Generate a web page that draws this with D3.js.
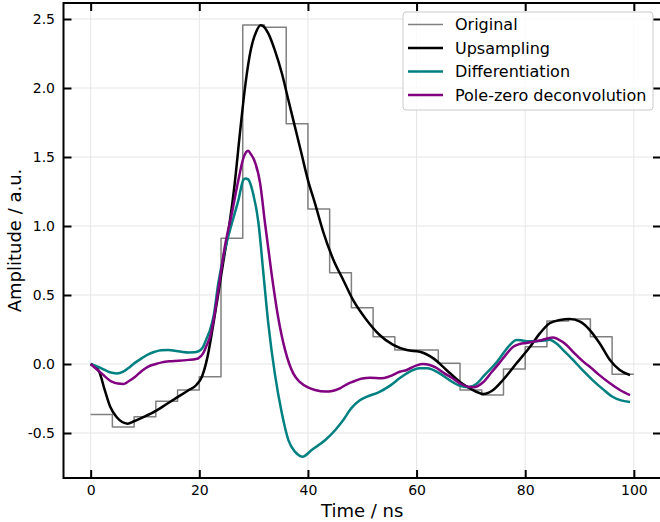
<!DOCTYPE html>
<html>
<head>
<meta charset="utf-8">
<script src="https://cdn.jsdelivr.net/npm/d3@7"></script>
<style>
  body { margin: 0; background: #fff; }
  svg { display: block; font-family: "DejaVu Sans", sans-serif; }
</style>
</head>
<body>
<div id="chart"></div>
<script>
// original samples (4 ns bins, last value repeated to close the step at 100 ns)
const origTime = [0, 4, 8, 12, 16, 20, 24, 28, 32, 36, 40, 44, 48, 52, 56, 60, 64, 68, 72, 76, 80, 84, 88, 92, 96, 100];
const origValues = [-0.365, -0.457, -0.382, -0.27, -0.188, -0.092, 0.911, 2.457, 2.44, 1.741, 1.123, 0.662, 0.408,
	0.198, 0.101, 0.101, 0.005, -0.188, -0.225, -0.036, 0.125, 0.312, 0.326, 0.198, -0.075, -0.075];

const upTime = [0, 1.5, 2.6, 3.6, 4.8, 5.8, 6.8, 8, 10, 12, 14, 16, 18, 19.5, 20.5, 21.5, 22.5, 23.5, 24.5, 25.5, 26.5,
	27.5, 28.5, 29.5, 30.5, 31.3, 32, 32.7, 33.9, 35.2, 36.4, 37.6, 38.8, 40, 41.3, 42.8, 44.7, 46.5, 48.3, 50.8, 53.2,
	55.7, 58.2, 60.6, 63.1, 65.5, 68, 69.8, 72.3, 74.1, 75.9, 78.4, 80.9, 82.7, 84.5, 86.4, 88.2, 90.1, 91.9, 93.7, 95.6,
	97.4, 99.3];
const upValues = [0, -0.05, -0.19, -0.31, -0.386, -0.42, -0.432, -0.415, -0.38, -0.34, -0.29, -0.24, -0.19, -0.15, -0.09,
	0.05, 0.27, 0.51, 0.76, 1.0, 1.3, 1.68, 2.03, 2.28, 2.41, 2.455, 2.44, 2.396, 2.275, 2.107, 1.913, 1.72, 1.527, 1.333,
	1.164, 0.96, 0.754, 0.609, 0.464, 0.319, 0.21, 0.138, 0.101, 0.089, 0.041, -0.043, -0.13, -0.176, -0.217, -0.188,
	-0.116, 0.005, 0.125, 0.222, 0.295, 0.319, 0.326, 0.307, 0.246, 0.15, 0.029, -0.043, -0.08];

const diffTime = [0, 2, 3.5, 4.8, 6, 6.9, 8.2, 9.4, 10.6, 11.8, 13, 14.3, 15.5, 16.7, 18, 19.2, 20, 20.7, 21.3, 22, 22.6,
	23.5, 24.7, 26, 27.2, 28.1, 28.5, 29, 29.9, 30.9, 31.8, 32.7, 33.9, 35.2, 36.4, 37.6, 38.5, 39, 40.7, 43.2, 45, 46.5,
	48, 49.5, 51, 53, 55, 57, 59, 60.5, 62, 64, 66, 68, 69.5, 71, 72.3, 73.5, 74.7, 76, 77.2, 78.4, 79.3, 80.2, 82.1,
	83.5, 84.5, 85.7, 87, 88.8, 90.7, 92.5, 94.3, 96, 97.5, 99.3];
const diffValues = [0, -0.031, -0.06, -0.068, -0.055, -0.031, 0.01, 0.041, 0.07, 0.089, 0.1, 0.101, 0.096, 0.089, 0.084,
	0.085, 0.095, 0.125, 0.18, 0.25, 0.34, 0.585, 0.826, 1.02, 1.188, 1.333, 1.345, 1.338, 1.237, 1.02, 0.657, 0.295,
	-0.068, -0.357, -0.551, -0.635, -0.665, -0.672, -0.623, -0.551, -0.48, -0.406, -0.32, -0.265, -0.235, -0.205, -0.16,
	-0.1, -0.05, -0.03, -0.03, -0.062, -0.115, -0.158, -0.168, -0.145, -0.09, -0.04, 0.01, 0.08, 0.138, 0.174, 0.172,
	0.165, 0.165, 0.17, 0.175, 0.15, 0.101, 0.03, -0.05, -0.12, -0.182, -0.235, -0.262, -0.275];

const pzTime = [0, 2, 3.9, 5, 6, 7, 8.2, 9.4, 10.6, 12, 13.1, 14.5, 16.1, 18, 19.2, 19.8, 20.7, 21.3, 22, 22.5, 23.5,
	24.7, 26, 27.2, 28.1, 29, 29.5, 30.1, 31.2, 32.1, 33.3, 34.5, 35.8, 37.3, 38.5, 40, 41.3, 43.2, 44.5, 45.9, 47.5,
	48.5, 50, 51.5, 53.5, 55, 56.9, 58.2, 60, 61.2, 62.3, 63.5, 65.2, 66.5, 68, 69.5, 70.5, 72.3, 73.8, 75.3, 76.5, 77.8,
	79, 80.2, 81.5, 82.7, 84, 85.1, 86, 87.6, 89, 90.7, 91.9, 93.5, 95.6, 97.5, 99.3];
const pzValues = [0, -0.068, -0.128, -0.142, -0.145, -0.125, -0.092, -0.05, -0.019, 0.0, 0.012, 0.02, 0.024, 0.03, 0.035,
	0.041, 0.077, 0.13, 0.2, 0.29, 0.536, 0.85, 1.092, 1.333, 1.49, 1.545, 1.52, 1.478, 1.309, 1.02, 0.657, 0.343, 0.101,
	-0.068, -0.13, -0.17, -0.188, -0.2, -0.195, -0.176, -0.14, -0.125, -0.105, -0.1, -0.104, -0.09, -0.056, -0.043, -0.01,
	0.0, -0.005, -0.025, -0.07, -0.1, -0.14, -0.165, -0.168, -0.13, -0.06, 0.01, 0.07, 0.125, 0.145, 0.152, 0.162, 0.17,
	0.185, 0.193, 0.18, 0.138, 0.08, 0.017, -0.02, -0.075, -0.14, -0.19, -0.225];

const xTicks = [0, 20, 40, 60, 80, 100];
const yTicks = [-0.5, 0.0, 0.5, 1.0, 1.5, 2.0, 2.5];

const series = [
	{ name: "Original", t: origTime, v: origValues, color: "#808080", width: 1.5, curve: d3.curveStepAfter },
	{ name: "Upsampling", t: upTime, v: upValues, color: "#000000", width: 2.5, curve: d3.curveMonotoneX },
	{ name: "Differentiation", t: diffTime, v: diffValues, color: "#008080", width: 2.5, curve: d3.curveMonotoneX },
	{ name: "Pole-zero deconvolution", t: pzTime, v: pzValues, color: "#800080", width: 2.5, curve: d3.curveMonotoneX },
];

const width = 660, height = 522;
const mLeft = 63.5, mRight = 661, mTop = 3, mBottom = 478;

const svg = d3.select("#chart").append("svg")
	.attr("width", width)
	.attr("height", height);

const x = d3.scaleLinear().domain([-5, 105]).range([mLeft, mRight]);
const y = d3.scaleLinear().domain([-0.826, 2.616]).range([mBottom, mTop]);

// grid
svg.append("g").selectAll("line").data(xTicks).join("line")
	.attr("x1", d => x(d)).attr("x2", d => x(d))
	.attr("y1", mTop).attr("y2", mBottom)
	.attr("stroke", "#e6e6e6").attr("stroke-width", 1);
svg.append("g").selectAll("line").data(yTicks).join("line")
	.attr("x1", mLeft).attr("x2", mRight)
	.attr("y1", d => y(d)).attr("y2", d => y(d))
	.attr("stroke", "#e6e6e6").attr("stroke-width", 1);

// lines
const plot = svg.append("g");
series.forEach(s => {
	const line = d3.line()
		.x(i => x(s.t[i]))
		.y(i => y(s.v[i]))
		.curve(s.curve);
	plot.append("path")
		.attr("d", line(d3.range(s.t.length)))
		.attr("fill", "none")
		.attr("stroke", s.color)
		.attr("stroke-width", s.width)
		.attr("stroke-linejoin", "round");
});

// axes, ticks pointing inwards on all sides
const styleAxis = g => {
	g.select(".domain").remove();
	g.selectAll(".tick line").attr("stroke", "#000").attr("stroke-width", 2);
	g.selectAll(".tick text").attr("fill", "#000").style("font-size", "14px")
		.style("font-family", "DejaVu Sans");
};
svg.append("g").attr("transform", `translate(0,${mBottom})`)
	.call(d3.axisBottom(x).tickValues(xTicks).tickSize(-8).tickPadding(7).tickFormat(d => d))
	.call(styleAxis);
svg.append("g").attr("transform", `translate(0,${mTop})`)
	.call(d3.axisTop(x).tickValues(xTicks).tickSize(-8).tickFormat(""))
	.call(styleAxis);
svg.append("g").attr("transform", `translate(${mLeft},0)`)
	.call(d3.axisLeft(y).tickValues(yTicks).tickSize(-8).tickPadding(8.5).tickFormat(d => d.toFixed(1)))
	.call(styleAxis);
svg.append("g").attr("transform", `translate(${mRight},0)`)
	.call(d3.axisRight(y).tickValues(yTicks).tickSize(-8).tickFormat(""))
	.call(styleAxis);

// spines
svg.append("rect")
	.attr("x", mLeft).attr("y", mTop)
	.attr("width", mRight - mLeft).attr("height", mBottom - mTop)
	.attr("fill", "none").attr("stroke", "#000").attr("stroke-width", 2);

// axis labels
svg.append("text")
	.attr("x", (mLeft + mRight) / 2).attr("y", 517)
	.attr("text-anchor", "middle")
	.style("font-size", "18px")
	.text("Time / ns");
svg.append("text")
	.attr("transform", `translate(21,${(mTop + mBottom) / 2}) rotate(-90)`)
	.attr("text-anchor", "middle")
	.style("font-size", "18px")
	.text("Amplitude / a.u.");

// legend
const legend = svg.append("g");
legend.append("rect")
	.attr("x", 403).attr("y", 12).attr("width", 250).attr("height", 98)
	.attr("rx", 3)
	.attr("fill", "#fff").attr("fill-opacity", 0.8)
	.attr("stroke", "#cccccc").attr("stroke-width", 1);
series.forEach((s, i) => {
	const yy = 24.5 + i * 23.5;
	legend.append("line")
		.attr("x1", 408).attr("x2", 443)
		.attr("y1", yy).attr("y2", yy)
		.attr("stroke", s.color).attr("stroke-width", s.width);
	legend.append("text")
		.attr("x", 455).attr("y", yy)
		.attr("dy", "0.35em")
		.style("font-size", "16px")
		.text(s.name);
});
</script>
</body>
</html>
